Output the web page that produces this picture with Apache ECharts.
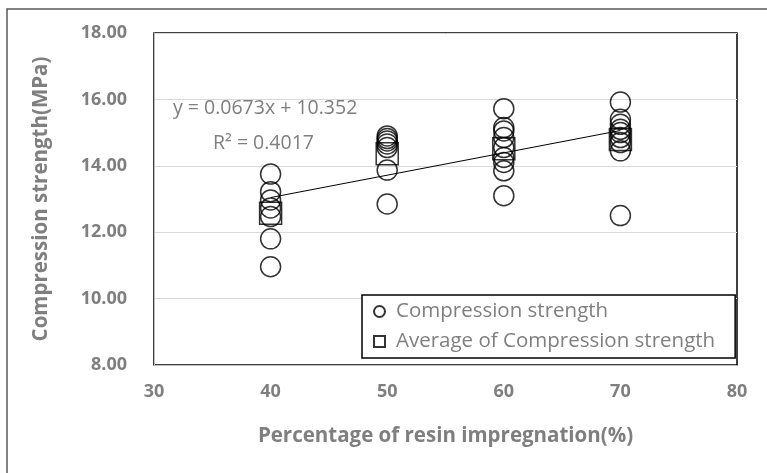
<!DOCTYPE html>
<html>
<head>
<meta charset="utf-8">
<script src="https://cdn.jsdelivr.net/npm/echarts@6/dist/echarts.min.js"></script>
<style>
  html, body { margin: 0; padding: 0; background: #fff; }
  #chart { width: 767px; height: 473px; }
</style>
</head>
<body>
<div id="chart"></div>
<script>
// 含浸率 (x) 별 압축강도 값
const xLevels = [40, 50, 60, 70];
const strength40 = [13.75, 13.22, 12.97, 12.73, 12.47, 11.80, 10.96];
const strength50 = [14.90, 14.82, 14.75, 14.66, 14.55, 13.87, 12.85];
const strength60 = [15.72, 15.15, 15.05, 14.85, 14.55, 14.25, 14.10, 13.85, 13.10];
const strength70 = [15.92, 15.40, 15.25, 15.10, 15.00, 14.85, 14.70, 14.45, 12.50];
const averages = [12.57, 14.36, 14.51, 14.79];
// 추세선 끝점 (y = 0.0673x + 10.352)
const trendX = [40, 70];
const trendY = [13.044, 15.063];
const yTicks = [8, 10, 12, 14, 16, 18];

const groups = [strength40, strength50, strength60, strength70];
const pointData = [];
groups.forEach((vals, i) => {
  vals.forEach(v => pointData.push([xLevels[i], v]));
});
const avgData = xLevels.map((x, i) => [x, averages[i]]);
const trendData = trendX.map((x, i) => [x, trendY[i]]);

const font = '"Open Sans", "Noto Sans", sans-serif';
const gray = '#7f7f7f';

const chart = echarts.init(document.getElementById('chart'));
chart.setOption({
  animation: false,
  textStyle: { fontFamily: font },
  grid: {
    left: 154, right: 30, top: 33, bottom: 108,
    show: true, borderColor: '#000', borderWidth: 1.5, backgroundColor: '#fff'
  },
  xAxis: {
    type: 'value', min: 30, max: 80, interval: 10,
    name: 'Percentage of resin impregnation(%)',
    nameLocation: 'middle', nameGap: 61,
    nameTextStyle: { color: gray, fontSize: 20.5, fontWeight: 'bold', fontFamily: font },
    axisLine: { show: true, lineStyle: { color: '#bfbfbf', width: 1 } },
    axisTick: { show: false },
    splitLine: { show: false },
    axisLabel: { color: gray, fontSize: 18, fontWeight: 'bold', margin: 18, fontFamily: font }
  },
  yAxis: {
    type: 'value', min: yTicks[0], max: yTicks[yTicks.length - 1], interval: 2,
    name: 'Compression strength(MPa)',
    nameLocation: 'middle', nameGap: 102,
    nameTextStyle: { color: gray, fontSize: 20.5, fontWeight: 'bold', fontFamily: font },
    axisLine: { show: true, lineStyle: { color: '#bfbfbf', width: 1 } },
    axisTick: { show: false },
    splitLine: { show: true, lineStyle: { color: '#d9d9d9', width: 1 } },
    axisLabel: {
      color: gray, fontSize: 18, fontWeight: 'bold', margin: 27, fontFamily: font,
      formatter: v => v.toFixed(2)
    }
  },
  legend: {
    orient: 'vertical',
    left: 362, top: 295,
    data: ['Compression strength', 'Average of Compression strength'],
    borderColor: '#000', borderWidth: 1.5,
    padding: [6, 20, 6, 11],
    itemGap: 9,
    itemWidth: 11, itemHeight: 11,
    textStyle: { color: gray, fontSize: 20.5, lineHeight: 20, fontFamily: font, padding: [0, 0, 0, 6] },
    backgroundColor: '#fff'
  },
  graphic: [
    {
      type: 'rect', silent: true, z: -10,
      shape: { x: 7, y: 9, width: 800, height: 500 },
      style: { fill: 'none', stroke: '#595959', lineWidth: 1.5 }
    },
    {
      type: 'text', left: 173, top: 98, z: 10,
      style: { text: 'y = 0.0673x + 10.352', fill: gray, font: '19.5px ' + font }
    },
    {
      type: 'text', left: 213, top: 133, z: 10,
      style: { text: 'R² = 0.4017', fill: gray, font: '19.5px ' + font }
    }
  ],
  series: [
    {
      name: 'Compression strength',
      type: 'scatter',
      symbol: 'circle', symbolSize: 20,
      itemStyle: { color: 'rgba(0,0,0,0)', borderColor: '#000', borderWidth: 1.5 },
      data: pointData, z: 3
    },
    {
      name: 'Average of Compression strength',
      type: 'scatter',
      symbol: 'rect', symbolSize: 22,
      itemStyle: { color: 'rgba(0,0,0,0)', borderColor: '#000', borderWidth: 1.5 },
      data: avgData, z: 2
    },
    {
      name: 'trend',
      type: 'line',
      showSymbol: false, symbol: 'none',
      lineStyle: { color: '#000', width: 1 },
      data: trendData, z: 4, silent: true
    }
  ]
});
</script>
</body>
</html>
